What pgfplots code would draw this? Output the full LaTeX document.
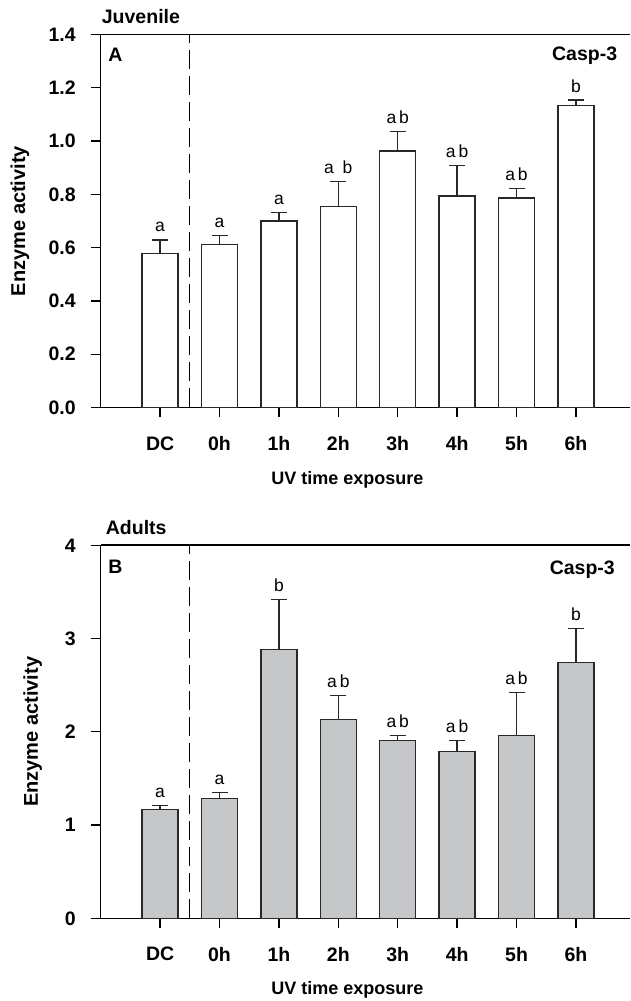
\documentclass[border=0pt]{standalone}
\usepackage{fontspec}
\setmainfont{Liberation Sans}
\usepackage{pgfplots}
\pgfplotsset{compat=1.18}
\usepackage{pgfplotstable}

\definecolor{bargray}{RGB}{198,199,201}
\definecolor{edge}{RGB}{40,40,40}

\pgfplotstableread[col sep=comma, row sep=\\]{
x,y,e,lab\\
0,0.579,0.050,a\\
1,0.611,0.034,a\\
2,0.700,0.033,a\\
3,0.755,0.093,a\enspace b\\
4,0.963,0.074,a\,b\\
5,0.794,0.114,a\,b\\
6,0.786,0.035,a\,b\\
7,1.133,0.021,b\\
}\juv

\pgfplotstableread[col sep=comma, row sep=\\]{
x,y,e,lab\\
0,1.170,0.043,a\\
1,1.281,0.067,a\\
2,2.884,0.533,b\\
3,2.129,0.257,a\,b\\
4,1.907,0.050,a\,b\\
5,1.789,0.118,a\,b\\
6,1.957,0.465,a\,b\\
7,2.741,0.368,b\\
}\adu

\newcommand{\bigbf}{\bfseries\fontsize{19.5}{19.5}\selectfont}

\pgfplotsset{
  panel/.style={
    scale only axis, width=529.3pt, height=373pt,
    xmin=-1, xmax=7.91, ymin=0,
    axis x line*=bottom, axis y line*=left,
    xtick={0,...,7}, xticklabels={DC,0h,1h,2h,3h,4h,5h,6h},
    tick align=outside, major tick length=9.5pt,
    tick style={line width=1.3pt, black},
    axis line style={line width=1.6pt, black},
    /pgf/number format/assume math mode=true,
    tick label style={font=\bigbf},
    xticklabel style={yshift=-16pt},
    yticklabel style={xshift=-12pt},
    xlabel={UV time exposure},
    ylabel={Enzyme activity},
    every axis x label/.style={at={(rel axis cs:0.5,0)}, xshift=-18pt, yshift=-72pt,
      anchor=center, font=\bfseries\fontsize{18}{18}\selectfont},
    clip=false,
  },
  bars/.style={
    ybar, bar width=36pt, draw=edge, line width=1.3pt,
    error bars/y dir=plus, error bars/y explicit,
    error bars/error bar style={line width=1.3pt, edge},
    error bars/error mark options={rotate=90, mark size=8pt, line width=1.3pt, edge},
  },
  letters/.style={
    draw=none, mark=none,
    nodes near coords, point meta=explicit symbolic,
    every node near coord/.append style={anchor=base, yshift=8pt, inner sep=0pt,
      font=\fontsize{17.5}{17.5}\selectfont, text=black},
  },
}

\begin{document}
\begin{tikzpicture}
\useasboundingbox (-100.7pt,-82.7pt) rectangle (529.3pt,918.3pt);

% Top panel: Juvenile
\begin{axis}[panel, at={(0pt,510.8pt)}, anchor=south west,
  ymax=1.4, ytick={0,0.2,0.4,0.6,0.8,1.0,1.2,1.4},
  yticklabel style={/pgf/number format/.cd, fixed, fixed zerofill, precision=1},
  every axis y label/.style={at={(rel axis cs:0,0.5)}, xshift=-80.7pt, rotate=90,
      anchor=center, font=\bfseries\fontsize{20}{20}\selectfont}]
  \addplot[bars, fill=white] table[x=x, y=y, y error=e] {\juv};
  \addplot[letters] table[x=x, y expr=\thisrow{y}+\thisrow{e}, meta=lab] {\juv};
  \addplot[black, line width=1.3pt, dash pattern=on 19pt off 7pt] coordinates {(0.5,0) (0.5,1.4)};
  \draw[line width=1.6pt] (rel axis cs:0,1) -- (rel axis cs:1,1);
  \node[anchor=base west, font=\bigbf, inner sep=0pt] at ([xshift=1pt, yshift=10.5pt]rel axis cs:0,1) {Juvenile};
  \node[anchor=base west, font=\bigbf, inner sep=0pt] at ([xshift=7.5pt, yshift=-27pt]rel axis cs:0,1) {A};
  \node[anchor=base east, font=\bigbf, inner sep=0pt] at ([xshift=-12.7pt, yshift=-26pt]rel axis cs:1,1) {Casp-3};
\end{axis}

% Bottom panel: Adults
\begin{axis}[panel, at={(0pt,0pt)}, anchor=south west,
  ymax=4, ytick={0,1,2,3,4},
  every axis y label/.style={at={(rel axis cs:0,0.5)}, xshift=-68pt, rotate=90,
      anchor=center, font=\bfseries\fontsize{20}{20}\selectfont}]
  \addplot[bars, fill=bargray] table[x=x, y=y, y error=e] {\adu};
  \addplot[letters] table[x=x, y expr=\thisrow{y}+\thisrow{e}, meta=lab] {\adu};
  \addplot[black, line width=1.3pt, dash pattern=on 19pt off 7pt] coordinates {(0.5,0) (0.5,4)};
  \draw[line width=1.6pt] (rel axis cs:0,1) -- (rel axis cs:1,1);
  \node[anchor=base west, font=\bigbf, inner sep=0pt] at ([xshift=5pt, yshift=10.7pt]rel axis cs:0,1) {Adults};
  \node[anchor=base west, font=\bigbf, inner sep=0pt] at ([xshift=7.5pt, yshift=-28pt]rel axis cs:0,1) {B};
  \node[anchor=base east, font=\bigbf, inner sep=0pt] at ([xshift=-15pt, yshift=-29pt]rel axis cs:1,1) {Casp-3};
\end{axis}
\end{tikzpicture}
\end{document}
